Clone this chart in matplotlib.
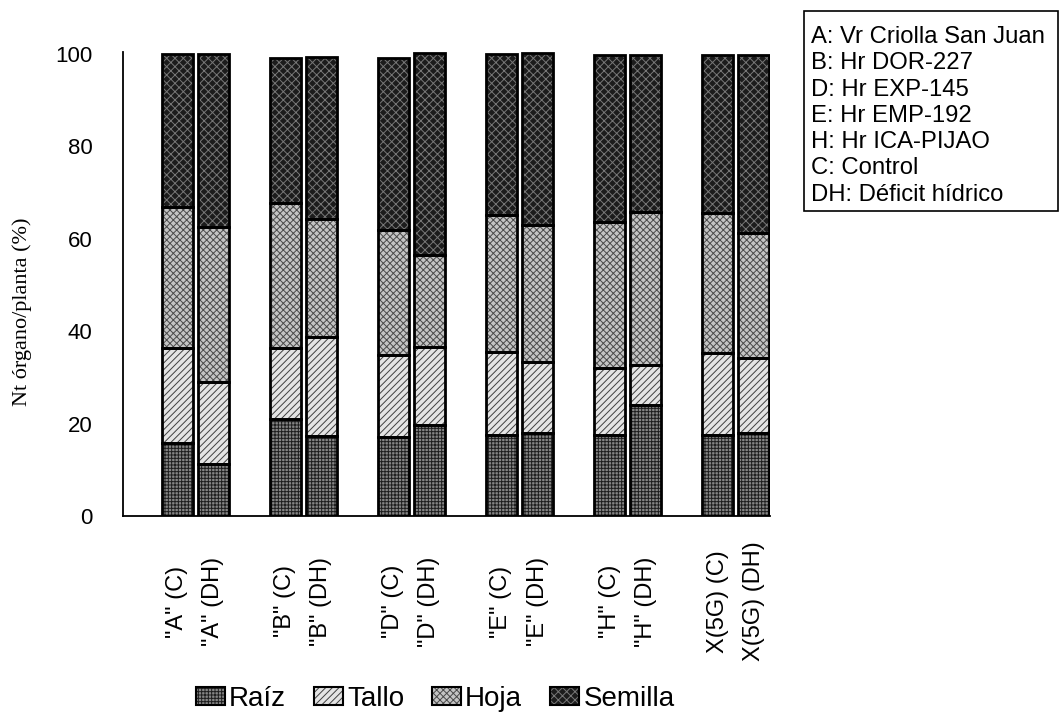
import matplotlib
matplotlib.use("Agg")
import matplotlib.pyplot as plt
from matplotlib.patches import Patch, Rectangle
from matplotlib.legend_handler import HandlerTuple
import numpy as np

plt.rcParams['font.family'] = ['Liberation Sans', 'DejaVu Sans']
plt.rcParams['hatch.linewidth'] = 0.7

# Nt por órgano (% del total de la planta)
labels = ['"A" (C)', '"A" (DH)', '"B" (C)', '"B" (DH)', '"D" (C)', '"D" (DH)',
          '"E" (C)', '"E" (DH)', '"H" (C)', '"H" (DH)', 'X(5G) (C)', 'X(5G) (DH)']
raiz = [15.7, 11.3, 21.1, 17.3, 17.2, 19.8, 17.5, 17.9, 17.5, 24.0, 17.5, 17.9]
tallo = [20.6, 17.6, 15.2, 21.5, 17.6, 16.8, 18.1, 15.5, 14.5, 8.7, 17.7, 16.2]
hoja = [30.6, 33.7, 31.4, 25.5, 27.1, 19.9, 29.6, 29.6, 31.7, 33.2, 30.3, 27.1]
semilla = [33.1, 37.4, 31.4, 35.1, 37.2, 43.7, 34.8, 37.3, 36.1, 33.9, 34.3, 38.6]

organos = ['Raíz', 'Tallo', 'Hoja', 'Semilla']
# (relleno, trama, color de trama)
estilos = [('#858585', '+++++', '#1e1e1e'),
           ('#e4e4e4', '/////', '#404040'),
           ('#c4c4c4', 'xxxxx', '#4a4a4a'),
           ('#1c1c1c', 'xxxx', '#777777')]

notas = ['A: Vr Criolla San Juan', 'B: Hr DOR-227', 'D: Hr EXP-145',
         'E: Hr EMP-192', 'H: Hr ICA-PIJAO', 'C: Control', 'DH: Déficit hídrico']

# pares C / DH separados por un hueco
x = np.array([3 * (i // 2) + (i % 2) for i in range(len(labels))], dtype=float)
w = 0.86

fig = plt.figure(figsize=(10.61, 7.15), dpi=100)
ax = fig.add_axes([123 / 1061, 1 - 516 / 715, 647 / 1061, (516 - 51.7) / 715])

bottom = np.zeros(len(labels))
for vals, (fc, hatch, hc) in zip([raiz, tallo, hoja, semilla], estilos):
    vals = np.array(vals)
    ax.bar(x, vals, w, bottom=bottom, facecolor=fc, hatch=hatch,
           edgecolor=hc, linewidth=0, zorder=2)
    ax.bar(x, vals, w, bottom=bottom, facecolor='none',
           edgecolor='black', linewidth=2.0, zorder=3)
    bottom += vals

ax.set_xlim(-1.5, x[-1] + w / 2 + 0.02)
ax.set_ylim(0, 100.5)
ax.set_yticks([0, 20, 40, 60, 80, 100])
ax.tick_params(axis='y', length=0, pad=22, labelsize=16)
ax.set_xticks([])
for s in ['top', 'right']:
    ax.spines[s].set_visible(False)
for s in ['left', 'bottom']:
    ax.spines[s].set_linewidth(1.3)

# etiquetas verticales bajo cada barra
for xi, lab in zip(x, labels):
    ax.text(xi, -18.5, lab, rotation=90, ha='center', va='center',
            fontsize=17, transform=ax.transData, clip_on=False)

fig.text(22 / 1061, 1 - 312 / 715, 'Nt órgano/planta (%)', rotation=90,
         ha='center', va='center', fontsize=16, family='Liberation Serif')

# recuadro con las claves
fig.patches.append(Rectangle((804 / 1061, 1 - 211 / 715), 254 / 1061, 200 / 715,
                             transform=fig.transFigure, facecolor='white',
                             edgecolor='black', linewidth=1.2))
for i, t in enumerate(notas):
    fig.text(811 / 1061, 1 - (37 + 26.3 * i) / 715, t, ha='left', va='center',
             fontsize=17.2)

handles = []
for fc, hatch, hc in estilos:
    handles.append((Patch(facecolor=fc, hatch=hatch, edgecolor=hc, linewidth=0),
                    Patch(facecolor='none', edgecolor='black', linewidth=1.5)))
fig.legend(handles, organos, loc='center', bbox_to_anchor=(435 / 1061, 1 - 699 / 715),
           ncol=4, frameon=False, fontsize=20, handlelength=1.05, handleheight=0.6,
           handletextpad=0.15, columnspacing=1.0,
           handler_map={tuple: HandlerTuple(ndivide=1)})

fig.savefig('out.png', dpi=100)
